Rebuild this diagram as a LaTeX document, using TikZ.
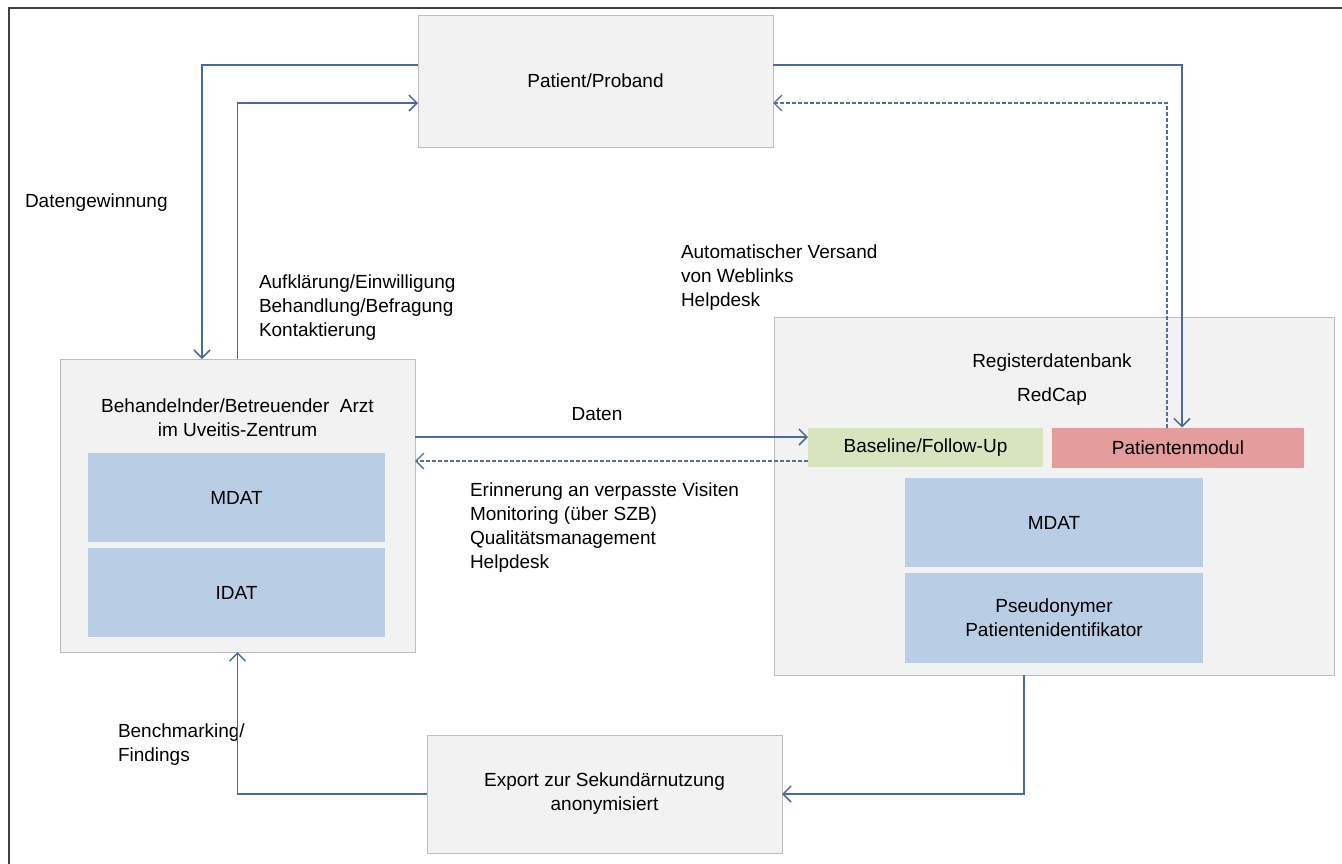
\documentclass[tikz,border=0pt]{standalone}
\usepackage{fontspec}
\setmainfont{Liberation Sans}
\usetikzlibrary{arrows.meta,positioning}

\definecolor{boxgray}{HTML}{F2F2F2}
\definecolor{boxline}{HTML}{BDBDBD}
\definecolor{datblue}{HTML}{B9CDE5}
\definecolor{basegreen}{HTML}{D7E4BD}
\definecolor{modred}{HTML}{E49C9C}
\definecolor{flowblue}{HTML}{4A6A9B}
\definecolor{framegray}{HTML}{404040}

\begin{document}
\begin{tikzpicture}[x=1pt,y=-1pt,>={Straight Barb[length=8pt,width=16pt]},
  every node/.style={font=\fontsize{19}{24}\selectfont, inner sep=0pt, outer sep=0pt},
  box/.style={draw=boxline, fill=boxgray, line width=0.8pt},
  dat/.style={fill=datblue, minimum width=297pt, minimum height=89pt, align=center},
  flow/.style={->, draw=flowblue, line width=1.5pt},
  back/.style={->, draw=flowblue!80!gray, line width=1.3pt, dashed, dash pattern=on 4pt off 2pt},
  txt/.style={align=left, anchor=west}]

  \useasboundingbox (0,0) rectangle (1342,863);
  \draw[framegray, line width=2pt] (8.5,7.5) rectangle (1350,870);

  % boxes
  \node[box, minimum width=355pt, minimum height=132pt] (pat) at (595.5,81) {Patient/Proband};
  \node[box, minimum width=355pt, minimum height=293pt] (arzt) at (237.5,505.5) {};
  \node[align=center] (arztname) at (237.5,418) {Behandelnder/Betreuender\ \ Arzt\\im Uveitis-Zentrum};
  \node[dat] (amdat) at (236.5,497.5) {MDAT};
  \node[dat, below=6pt of amdat] (aidat) {IDAT};

  \node[box, minimum width=560pt, minimum height=358pt] (reg) at (1054,496) {};
  \node (regname) at (1052,363) {Registerdatenbank};
  \node (redcap) at (1052,397) {RedCap};
  \node[fill=basegreen, minimum width=235pt, minimum height=39pt] (base) at (925.5,447.5) {Baseline/Follow-Up};
  \node[fill=modred, minimum width=252pt, minimum height=40pt, right=9pt of base] (pmod) {Patientenmodul};
  \node[dat, minimum width=298pt] (rmdat) at (1054,522.5) {MDAT};
  \node[dat, minimum width=298pt, minimum height=90pt, below=6pt of rmdat] (rpid) {Pseudonymer\\Patientenidentifikator};

  \node[box, minimum width=355pt, minimum height=118pt, align=center] (exp) at (604.5,794) {Export zur Sekund\"arnutzung\\anonymisiert};

  % labels
  \node[txt] (lgew) at (25,203) {Datengewinnung};
  \node[txt] (lauf) at (259,308) {Aufkl\"arung/Einwilligung\\Behandlung/Befragung\\Kontaktierung};
  \node[txt] (lauto) at (681,278) {Automatischer Versand\\von Weblinks\\Helpdesk};
  \node (ldaten) at (597,414) {Daten};
  \node[txt] (lerin) at (470,527.5) {Erinnerung an verpasste Visiten\\Monitoring (\"uber SZB)\\Qualit\"atsmanagement\\Helpdesk};
  \node[txt] (lbench) at (118,744.5) {Benchmarking/\\Findings};

  % connectors
  \coordinate (din) at ([yshift=10.5pt]base.west);
  \coordinate (dout) at ([yshift=-13.5pt]base.west);
  \draw[flow] ([yshift=16pt]pat.west) -| ([xshift=-35.5pt]arzt.north);
  \draw[flow] (arzt.north) |- ([yshift=-22pt]pat.west);
  \draw[flow] ([yshift=16pt]pat.east) -| ([xshift=4pt]pmod.north);
  \draw[back] ([xshift=-11pt]pmod.north) |- ([yshift=-22pt]pat.east);
  \draw[flow] (arzt.east |- din) -- (din);
  \draw[back] (dout) -- (arzt.east |- dout);
  \draw[flow] ([xshift=-30pt]reg.south) |- (exp.east);
  \draw[flow] (exp.west) -| (arzt.south);
\end{tikzpicture}
\end{document}
